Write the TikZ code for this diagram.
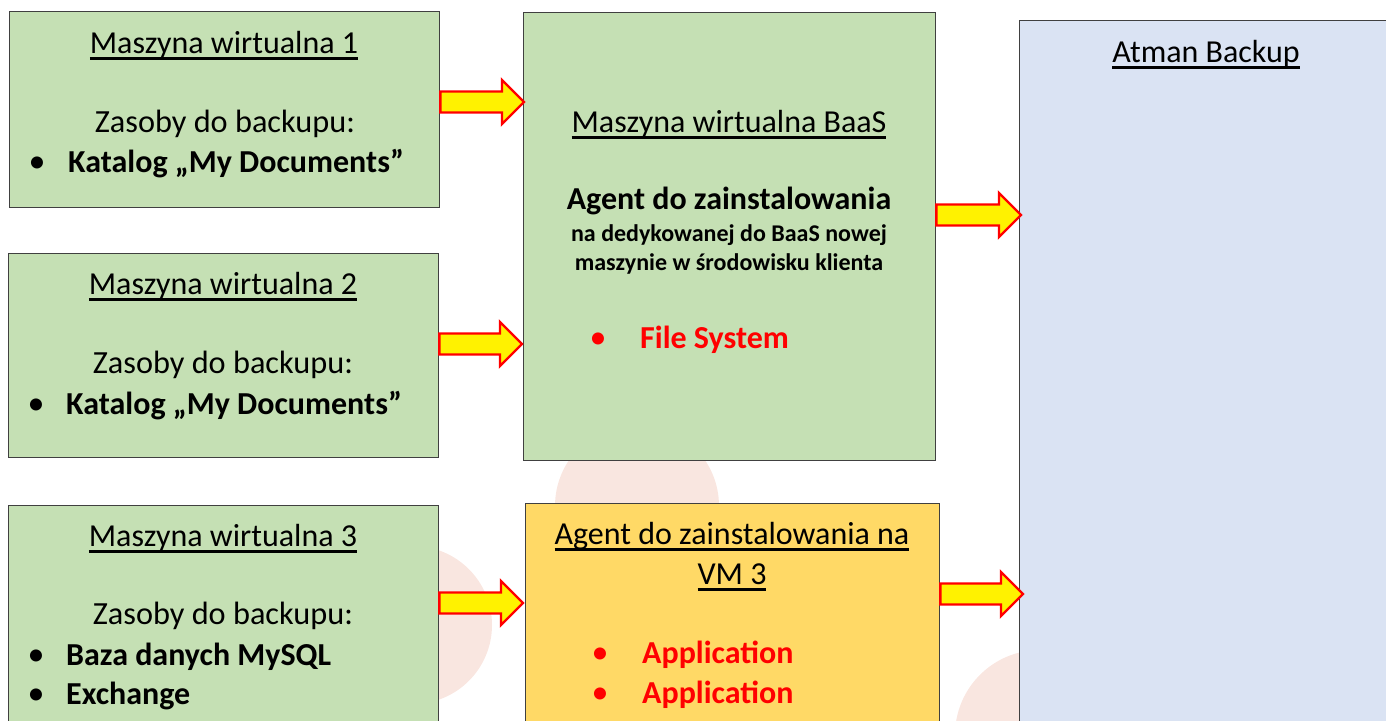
\documentclass[tikz,border=0pt]{standalone}
\usepackage{fontspec}
\setmainfont{Carlito}
\usetikzlibrary{calc}
\definecolor{boxgreen}{HTML}{C5E0B4}
\definecolor{boxyellow}{HTML}{FFD966}
\definecolor{boxblue}{HTML}{DAE3F3}
\definecolor{wm}{HTML}{F9E6E0}
\definecolor{edge}{HTML}{404040}
\newcommand{\ulined}[1]{\setbox0\hbox{#1}\rlap{\rule[-6pt]{\wd0}{2.2pt}}\box0}
\newcommand{\fatarrow}[2]{%
  \draw[fatarr] let \p1=(#1), \p2=(#2) in
    (\x1,\y1+10.5pt) -- (\x2-22pt,\y1+10.5pt) -- (\x2-22pt,\y1+22pt) -- (\x2,\y1)
    -- (\x2-22pt,\y1-22pt) -- (\x2-22pt,\y1-10.5pt) -- (\x1,\y1-10.5pt) -- cycle;}
\tikzset{
  box/.style={draw=edge, line width=1.3pt, inner sep=0pt, anchor=north west},
  fatarr/.style={draw=red, fill=yellow, line width=2.4pt, line join=miter},
  ttl/.style={font=\fontsize{32}{38}\selectfont, anchor=base, inner sep=0pt},
  txt/.style={font=\fontsize{32.3}{38}\selectfont, anchor=base, inner sep=0pt},
  itm/.style={font=\fontsize{32}{38}\selectfont\bfseries, anchor=base west, inner sep=0pt},
  dot/.style={font=\fontsize{34}{40}\selectfont, anchor=base, inner sep=0pt},
  big/.style={font=\fontsize{32}{38}\selectfont\bfseries, anchor=base, inner sep=0pt},
  small/.style={font=\fontsize{24}{28}\selectfont\bfseries, anchor=base, inner sep=0pt},
}
\begin{document}
\begin{tikzpicture}[x=1pt,y=-1pt]
\useasboundingbox (0,0) rectangle (1386,720);
\clip (0,0) rectangle (1386,720);
% watermark circles
\fill[wm] (637,506) circle (82);
\fill[wm] (413,625) circle (79);
\fill[wm] (1040,735) circle (85);
% boxes
\node[box, fill=boxgreen, minimum width=430pt, minimum height=196pt] (vm1) at (9,11) {};
\node[box, fill=boxgreen, minimum width=430pt, minimum height=204pt] (vm2) at (8,253) {};
\node[box, fill=boxgreen, minimum width=430pt, minimum height=230pt] (vm3) at (8,505) {};
\node[box, fill=boxgreen, minimum width=412pt, minimum height=448pt] (baas) at (523,12) {};
\node[box, fill=boxyellow, minimum width=414pt, minimum height=230pt] (agent) at (525,503) {};
\node[box, fill=boxblue, minimum width=400pt, minimum height=720pt] (atman) at (1019,20) {};
\begin{scope}[yshift=-1.5pt]
% VM1
\node[ttl] (vm1t) at (224,52) {\ulined{Maszyna wirtualna 1}};
\node[txt] (vm1z) at (225,131) {Zasoby do backupu:};
\node[dot] (vm1d) at (37,171) {•};
\node[itm] (vm1i) at (68,171) {Katalog „My Documents”};
% VM2
\node[ttl] (vm2t) at (223,293) {\ulined{Maszyna wirtualna 2}};
\node[txt] (vm2z) at (223,372) {Zasoby do backupu:};
\node[dot] (vm2d) at (36,413) {•};
\node[itm] (vm2i) at (66,413) {Katalog „My Documents”};
% VM3
\node[ttl] (vm3t) at (223,545) {\ulined{Maszyna wirtualna 3}};
\node[txt] (vm3z) at (223,623) {Zasoby do backupu:};
\node[dot] (vm3d) at (36,664) {•};
\node[itm] (vm3i) at (66,664) {Baza danych MySQL};
\node[dot] (vm3d2) at (36,703) {•};
\node[itm] (vm3i2) at (66,703) {Exchange};
% BaaS
\node[ttl] (baast) at (729,131) {\ulined{Maszyna wirtualna BaaS}};
\node[big] (baasa) at (729,208) {Agent do zainstalowania};
\node[small] (baasb) at (729,240) {na dedykowanej do BaaS nowej};
\node[small] (baasc) at (729,269) {maszynie w środowisku klienta};
\node[dot, text=red] (baasd) at (598,347) {•};
\node[itm, text=red] (baasi) at (640,347) {File System};
% Agent VM3
\node[ttl] (agt1) at (732,543) {\ulined{Agent do zainstalowania na}};
\node[ttl] (agt2) at (732,583) {\ulined{VM 3}};
\node[dot, text=red] (agd1) at (600,662) {•};
\node[itm, text=red] (agi1) at (642,662) {Application};
\node[dot, text=red] (agd2) at (600,702) {•};
\node[itm, text=red] (agi2) at (642,702) {Application};
% Atman
\node[ttl] (atmant) at (1206,61) {\ulined{Atman Backup}};
\end{scope}
% arrow anchors
\coordinate (y1) at (0,102);
\coordinate (y2) at (0,344);
\coordinate (y3) at (0,215);
\coordinate (y4) at (0,603);
\coordinate (y5) at (0,594);
\coordinate (s1) at (vm1.east |- y1);  \coordinate (e1) at ([xshift=1pt]baas.west |- y1);
\coordinate (s2) at (vm2.east |- y2);  \coordinate (e2) at ([xshift=-1pt]baas.west |- y2);
\coordinate (s3) at (baas.east |- y3); \coordinate (e3) at ([xshift=2pt]atman.west |- y3);
\coordinate (s4) at (vm3.east |- y4);  \coordinate (e4) at ([xshift=-2pt]agent.west |- y4);
\coordinate (s5) at (agent.east |- y5); \coordinate (e5) at ([xshift=4pt]atman.west |- y5);
\fatarrow{s1}{e1}
\fatarrow{s2}{e2}
\fatarrow{s3}{e3}
\fatarrow{s4}{e4}
\fatarrow{s5}{e5}
\end{tikzpicture}
\end{document}
